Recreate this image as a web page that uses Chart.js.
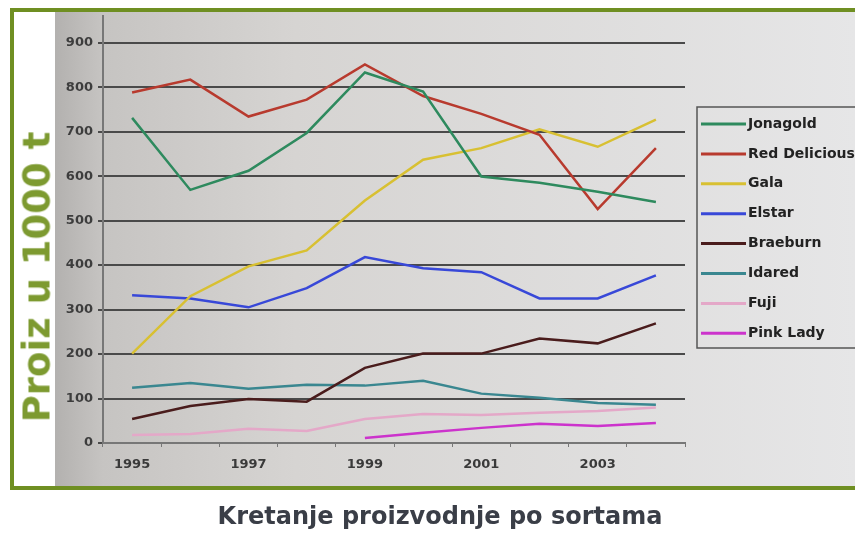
<!doctype html>
<html lang="hr">
<head>
  <meta charset="utf-8">
  <title>Kretanje proizvodnje po sortama</title>
  <script src="https://cdn.jsdelivr.net/npm/chart.js@4.4.1/dist/chart.umd.min.js"></script>
  <style>
    body { margin: 0; background: #fff; width: 855px; height: 535px; overflow: hidden; position: relative; }
    .frame { position: absolute; left: 10px; top: 8px; width: 860px; height: 482px; box-sizing: border-box;
             border: 4px solid #6f8f22; background: #fff; }
    .ytitle { position: absolute; left: 37px; top: 277px; transform: translate(-50%, -50%) rotate(-90deg);
              font: bold 37px "DejaVu Sans", sans-serif; color: #7d9a30; white-space: nowrap; }
    .caption { position: absolute; left: 0; width: 880px; top: 502px; text-align: center;
               font: bold 24px "DejaVu Sans", sans-serif; color: #3a3e47; }
    canvas { position: absolute; left: 0; top: 0; }
  </style>
</head>
<body>
  <div class="frame"></div>
  <canvas id="myChart" width="855" height="535"></canvas>
  <div class="ytitle">Proiz u 1000 t</div>
  <div class="caption">Kretanje proizvodnje po sortama</div>

  <script>
    const years = ['1995', '1996', '1997', '1998', '1999', '2000', '2001', '2002', '2003', '2004'];

    const jonagold     = [731, 569, 612, 697, 833, 790, 599, 585, 565, 542];
    const redDelicious = [788, 817, 734, 772, 851, 780, 740, 693, 526, 663];
    const gala         = [201, 330, 397, 433, 545, 637, 663, 705, 666, 727];
    const elstar       = [332, 325, 305, 348, 418, 393, 384, 325, 325, 377];
    const braeburn     = [54, 83, 99, 93, 169, 201, 201, 235, 224, 269];
    const idared       = [124, 135, 122, 131, 129, 140, 111, 102, 90, 86];
    const fuji         = [18, 20, 32, 27, 54, 65, 63, 68, 72, 80];
    const pinkLady     = [null, null, null, null, 11, 23, 34, 43, 38, 45];

    const yTicks = [0, 100, 200, 300, 400, 500, 600, 700, 800, 900];

    function line(label, data, color) {
      return {
        label: label,
        data: data,
        borderColor: color,
        backgroundColor: color,
        borderWidth: 2.5,
        pointRadius: 0,
        tension: 0,
        fill: false
      };
    }

    // gray photo-like background behind the plot
    const background = {
      id: 'background',
      beforeDraw(chart) {
        const ctx = chart.ctx;
        const g = ctx.createLinearGradient(55, 0, 855, 0);
        g.addColorStop(0, '#b3b1af');
        g.addColorStop(0.06, '#c6c4c2');
        g.addColorStop(0.3, '#d6d4d2');
        g.addColorStop(1, '#e6e6e7');
        ctx.save();
        ctx.fillStyle = g;
        ctx.fillRect(55, 12, 800, 474);
        ctx.restore();
      }
    };

    // boxed legend on the right like the original slide
    const boxLegend = {
      id: 'boxLegend',
      afterDraw(chart) {
        const ctx = chart.ctx;
        ctx.save();
        ctx.strokeStyle = '#555';
        ctx.lineWidth = 1.5;
        ctx.strokeRect(697, 107, 170, 241);
        ctx.font = 'bold 14px "DejaVu Sans"';
        ctx.textBaseline = 'middle';
        chart.data.datasets.forEach((ds, i) => {
          const y = 124 + i * 29.9;
          ctx.strokeStyle = ds.borderColor;
          ctx.lineWidth = 3;
          ctx.beginPath();
          ctx.moveTo(701, y);
          ctx.lineTo(746, y);
          ctx.stroke();
          ctx.fillStyle = '#222';
          ctx.fillText(ds.label, 748, y);
        });
        ctx.restore();
      }
    };

    const ctx = document.getElementById('myChart').getContext('2d');
    const myChart = new Chart(ctx, {
      type: 'line',
      data: {
        labels: years,
        datasets: [
          line('Jonagold', jonagold, '#2e8a5e'),
          line('Red Delicious', redDelicious, '#b83a2e'),
          line('Gala', gala, '#d8c032'),
          line('Elstar', elstar, '#3848d8'),
          line('Braeburn', braeburn, '#4a1c1c'),
          line('Idared', idared, '#3a8790'),
          line('Fuji', fuji, '#e4a8c8'),
          line('Pink Lady', pinkLady, '#cc33cc')
        ]
      },
      options: {
        responsive: false,
        animation: false,
        layout: { padding: { left: 55, right: 170, top: 16, bottom: 0 } },
        plugins: {
          legend: { display: false },
          tooltip: { enabled: false }
        },
        scales: {
          x: {
            offset: true,
            grid: { drawOnChartArea: false, offset: true, tickLength: 4, color: '#777' },
            border: { color: '#777', width: 2 },
            ticks: {
              autoSkip: false,
              maxRotation: 0,
              padding: 10,
              color: '#3a3a3a',
              font: { family: 'DejaVu Sans', size: 13, weight: 'bold' },
              callback: function(value, index) {
                return index % 2 === 0 ? this.getLabelForValue(value) : '';
              }
            },
            afterFit: function(scale) { scale.height = 92; }
          },
          y: {
            min: 0,
            max: 960,
            afterBuildTicks: function(scale) {
              scale.ticks = yTicks.map(v => ({ value: v }));
            },
            grid: { color: '#4a4a4a', lineWidth: 2, tickLength: 5 },
            border: { color: '#777', width: 2 },
            ticks: {
              padding: 5,
              color: '#3d3d3d',
              font: { family: 'DejaVu Sans', size: 13, weight: 'bold' }
            },
            afterFit: function(scale) { scale.width = 48; }
          }
        }
      },
      plugins: [background, boxLegend]
    });
  </script>
</body>
</html>
